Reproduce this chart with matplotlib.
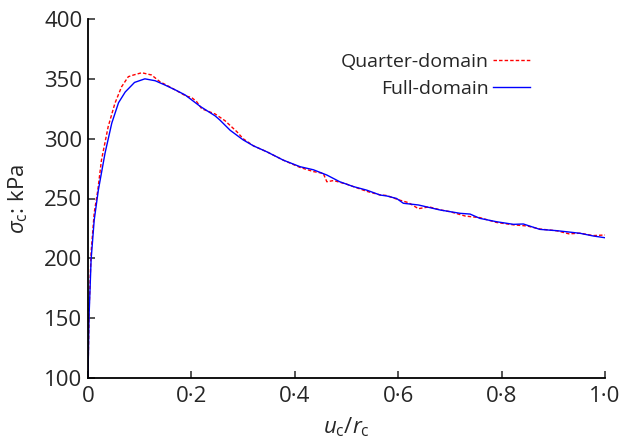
import matplotlib
matplotlib.use("Agg")
import matplotlib.pyplot as plt

plt.rcParams['font.family'] = ['Open Sans', 'DejaVu Sans']
plt.rcParams['mathtext.fontset'] = 'custom'
plt.rcParams['mathtext.rm'] = 'Open Sans'
plt.rcParams['mathtext.it'] = 'Open Sans:italic'
plt.rcParams['mathtext.bf'] = 'Open Sans:bold'

# Quarter-domain (red dashed)
x_quarter = [0, 0.002, 0.006, 0.012, 0.019, 0.026, 0.039, 0.052, 0.065, 0.078, 0.088,
             0.104, 0.123, 0.139, 0.155, 0.175, 0.190, 0.200, 0.210, 0.220, 0.246, 0.265,
             0.288, 0.300, 0.320, 0.346, 0.378, 0.410, 0.436, 0.455, 0.462, 0.475, 0.500,
             0.539, 0.565, 0.578, 0.600, 0.620, 0.639, 0.660, 0.681, 0.700, 0.730, 0.758,
             0.790, 0.823, 0.850, 0.874, 0.907, 0.930, 0.952, 0.977, 1.0]
v_quarter = [100, 155, 205, 238, 257, 282, 310, 329.5, 343.4, 351.8, 353.2,
             355.1, 353.2, 347.6, 344, 339.2, 335.5, 334.5, 331, 325, 320.6, 315,
             305.8, 300, 294, 289, 282, 276, 272.5, 271, 264, 265, 262,
             256, 253, 252.5, 249, 246.5, 241.5, 243, 240.5, 239, 235.3, 234,
             230, 228, 227, 224.5, 223, 220.5, 221, 219, 219.5]

# Full-domain (blue solid)
x_full = [0, 0.002, 0.006, 0.012, 0.020, 0.033, 0.046, 0.059, 0.072, 0.090, 0.110,
          0.130, 0.149, 0.170, 0.188, 0.217, 0.246, 0.255, 0.275, 0.300, 0.320, 0.346,
          0.378, 0.410, 0.436, 0.462, 0.487, 0.513, 0.539, 0.565, 0.578, 0.597, 0.610,
          0.639, 0.660, 0.681, 0.720, 0.739, 0.758, 0.790, 0.823, 0.842, 0.874, 0.907,
          0.930, 0.952, 0.977, 1.0]
v_full = [100, 151, 199, 232, 257, 288, 313, 330, 339, 347, 350,
          348.4, 344.8, 340.5, 336.5, 327, 319, 315.6, 307, 299, 294, 289,
          282, 276.6, 274, 269.6, 264, 260, 257, 252.9, 252.1, 250, 246,
          244.6, 242.5, 240.4, 237.6, 237, 233.4, 230.6, 228.4, 228.7, 224.2, 223.1,
          222, 220.9, 218.7, 217.2]

x_ticks = [0, 0.2, 0.4, 0.6, 0.8, 1.0]
x_ticklabels = ['0', '0·2', '0·4', '0·6', '0·8', '1·0']
y_ticks = [100, 150, 200, 250, 300, 350, 400]

fig = plt.figure(figsize=(6.21, 4.42), dpi=100)
ax = fig.add_axes([88/621, 1-378/442, (605-88)/621, (378-19)/442])

ax.plot(x_quarter, v_quarter, color='#ff0000', lw=1.0, ls=(0, (2.5, 1.5)), label='Quarter-domain')
ax.plot(x_full, v_full, color='#0000ff', lw=1.0, label='Full-domain')

ax.set_xlim(0, 1.0)
ax.set_ylim(100, 400)
ax.set_xticks(x_ticks)
ax.set_xticklabels(x_ticklabels)
ax.set_yticks(y_ticks)
for s in ['top', 'right']:
    ax.spines[s].set_visible(False)
for s in ['left', 'bottom']:
    ax.spines[s].set_linewidth(1.3)
ax.tick_params(direction='in', length=5, width=1.1, labelsize=16, colors='#262626', pad=4)
ax.tick_params(axis='x', pad=6)

ax.set_xlabel(r'$u_\mathrm{c}/r_\mathrm{c}$', fontsize=16, color='#262626', labelpad=6)
ax.set_ylabel(r'$\sigma_\mathrm{c}$: kPa', fontsize=16, color='#262626', labelpad=10)

leg = ax.legend(loc='upper right', bbox_to_anchor=(0.855, 0.905), frameon=False, markerfirst=False,
                fontsize=14, handlelength=1.9, handletextpad=0.2, labelspacing=0.45,
                borderpad=0.0, borderaxespad=0.0, alignment='right')
for t in leg.get_texts():
    t.set_color('#262626')

fig.savefig('out.png', dpi=100)
